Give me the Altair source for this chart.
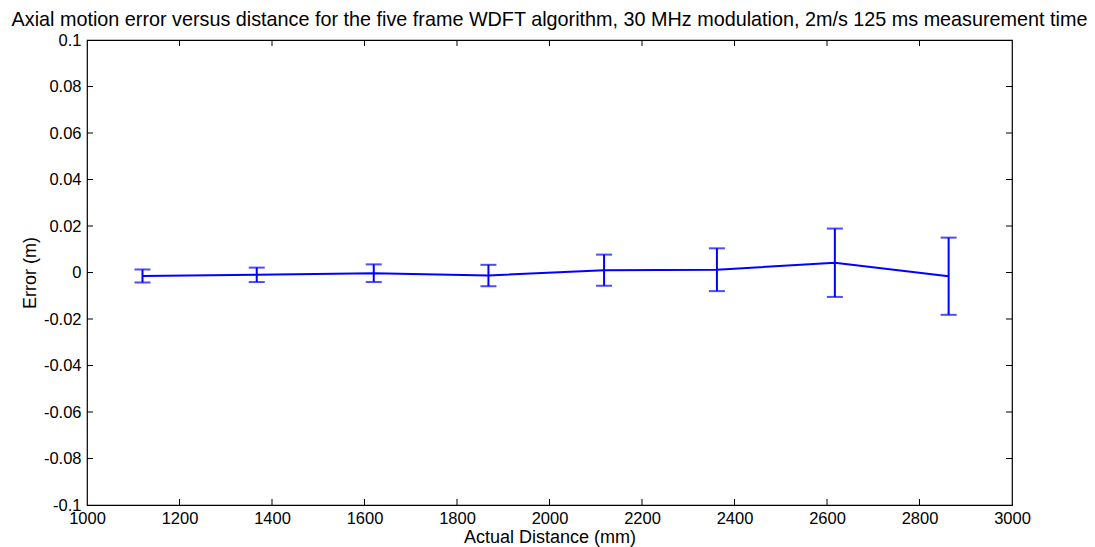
import altair as alt
import pandas as pd

# Data
distance = [1120, 1367, 1620, 1868, 2118, 2362, 2617, 2863]
error_mean = [-0.0015, -0.0010, -0.0003, -0.0013, 0.0010, 0.0012, 0.0042, -0.0016]
error_half = [0.0028, 0.0031, 0.0038, 0.0046, 0.0067, 0.0092, 0.0147, 0.0166]

x_ticks = [1000, 1200, 1400, 1600, 1800, 2000, 2200, 2400, 2600, 2800, 3000]
y_ticks = [-0.1, -0.08, -0.06, -0.04, -0.02, 0, 0.02, 0.04, 0.06, 0.08, 0.1]

W, H = 925, 465
FONT = "Liberation Sans"

df = pd.DataFrame({
    "x": distance,
    "y": error_mean,
    "lo": [m - h for m, h in zip(error_mean, error_half)],
    "hi": [m + h for m, h in zip(error_mean, error_half)],
})
xt = pd.DataFrame({"x": x_ticks[1:-1]})
yt = pd.DataFrame({"y": y_ticks[1:-1]})

xscale = alt.Scale(domain=[1000, 3000], nice=False, zero=False)
yscale = alt.Scale(domain=[-0.1, 0.1], nice=False, zero=False)

xaxis = alt.Axis(values=x_ticks, title="Actual Distance (mm)", grid=False, ticks=False,
                 domain=False, labelPadding=5, titlePadding=2, labelFlush=False,
                 labelOverlap=False, format="d")
yaxis = alt.Axis(values=y_ticks, title="Error (m)", grid=False, ticks=False, domain=False,
                 labelPadding=6, titlePadding=4, labelFlush=False, labelOverlap=False,
                 labelExpr="replace(format(datum.value, '.2~f'), '\u2212', '-')")

BLUE = "#0000ff"

line = alt.Chart(df).mark_line(color=BLUE, strokeWidth=2).encode(
    x=alt.X("x:Q", scale=xscale, axis=xaxis),
    y=alt.Y("y:Q", scale=yscale, axis=yaxis),
)
bars = alt.Chart(df).mark_rule(color=BLUE, strokeWidth=2).encode(
    x="x:Q", y="lo:Q", y2="hi:Q"
)
cap_lo = alt.Chart(df).mark_tick(color=BLUE, thickness=2, size=16, orient="horizontal").encode(
    x="x:Q", y="lo:Q"
)
cap_hi = alt.Chart(df).mark_tick(color=BLUE, thickness=2, size=16, orient="horizontal").encode(
    x="x:Q", y="hi:Q"
)

TL = 6
tick_bottom = alt.Chart(xt).mark_rule(color="black", strokeWidth=1).encode(
    x="x:Q", y=alt.value(H), y2=alt.value(H - TL))
tick_top = alt.Chart(xt).mark_rule(color="black", strokeWidth=1).encode(
    x="x:Q", y=alt.value(0), y2=alt.value(TL))
tick_left = alt.Chart(yt).mark_rule(color="black", strokeWidth=1).encode(
    y="y:Q", x=alt.value(0), x2=alt.value(TL))
tick_right = alt.Chart(yt).mark_rule(color="black", strokeWidth=1).encode(
    y="y:Q", x=alt.value(W), x2=alt.value(W - TL))

chart = alt.layer(
    tick_bottom, tick_top, tick_left, tick_right, line, bars, cap_lo, cap_hi
).properties(
    width=W, height=H,
    background="white",
    title=alt.TitleParams(
        "Axial motion error versus distance for the five frame WDFT algorithm, 30 MHz modulation, 2m/s 125 ms measurement time",
        font=FONT, fontSize=19.8, fontWeight="normal", anchor="middle", offset=2,
        color="black"),
    autosize=alt.AutoSizeParams(type="none"),
    padding={"left": 79, "top": 32, "right": 75, "bottom": 46},
).configure_view(
    stroke="black", strokeWidth=1.2
).configure_axis(
    labelFont=FONT, titleFont=FONT, labelFontSize=16.5, titleFontSize=18,
    titleFontWeight="normal", labelColor="black", titleColor="black"
)

chart.save("out.html", embed_options={"renderer": "svg", "actions": False})
